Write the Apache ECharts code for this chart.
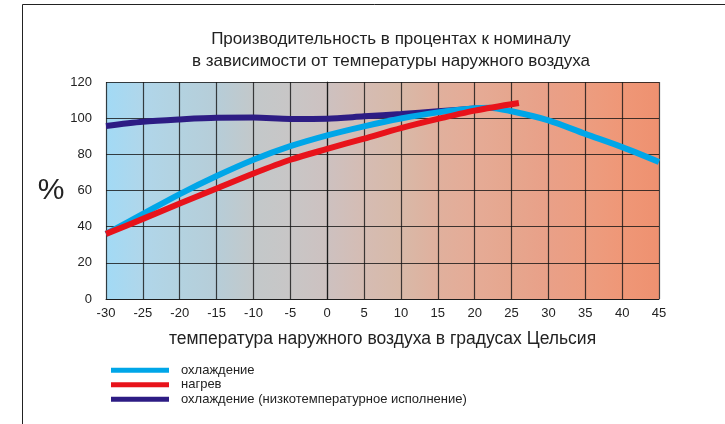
<!DOCTYPE html>
<html>
<head>
<meta charset="utf-8">
<script src="https://cdn.jsdelivr.net/npm/echarts@6/dist/echarts.min.js"></script>
<style>
  html, body { margin: 0; padding: 0; background: #fff; }
  #chart { width: 725px; height: 424px; }
</style>
</head>
<body>
<div id="chart"></div>
<script>
// данные
const titleText = 'Производительность в процентах к номиналу\nв зависимости от температуры наружного воздуха';
const xName = 'температура наружного воздуха в градусах Цельсия';
const seriesNames = ['охлаждение', 'нагрев', 'охлаждение (низкотемпературное исполнение)'];

const coolTemps = [-30, -25, -20, -15, -10, -5, 0, 5, 10, 15, 20, 22, 25, 30, 35, 40, 45];
const coolValues = [36, 47, 58, 68, 77, 84.5, 90.5, 95.5, 99.8, 103.2, 105.5, 105.8, 103.8, 98.8, 91.3, 84, 75.8];

const heatTemps = [-30, -25, -20, -15, -10, -5, 0, 5, 10, 15, 20, 26];
const heatValues = [36, 44.3, 52.8, 61.1, 69.4, 77, 83, 88.7, 94.5, 99.6, 104.2, 108.4];

const lowTemps = [-30, -25, -20, -15, -10, -5, 0, 5, 10, 15, 20, 21];
const lowValues = [95.7, 98, 99.3, 100.2, 100.3, 99.6, 99.7, 101, 102.3, 103.8, 105.3, 105.5];

// цвета фона по столбцам -30 ... 45
const bgStops = ['#a2daf5', '#b0d6ea', '#b3d2e0', '#b6cdd8', '#c3c8ca', '#c8c6c6', '#cdc1c0',
  '#d5bcb3', '#d8b9a8', '#e0b09d', '#e5ab96', '#e6a68e', '#e9a088', '#ec9d80', '#ef9777', '#ee9170'];

const colors = ['#00a6e8', '#e8131b', '#2d1c84'];

function pairs(xs, ys) {
  return xs.map((x, i) => [x, ys[i]]);
}

const chart = echarts.init(document.getElementById('chart'));
const font = 'Liberation Sans, Arial, sans-serif';
const gridColor = 'rgba(20,20,20,0.8)';

chart.setOption({
  animation: false,
  textStyle: { fontFamily: font },
  title: {
    text: titleText,
    left: 386,
    textAlign: 'center',
    top: 23,
    textStyle: { fontSize: 17, fontWeight: 'normal', color: '#222', lineHeight: 22, fontFamily: font }
  },
  graphic: [{
    type: 'rect',
    shape: { x: 22.5, y: 4.5, width: 900, height: 600 },
    style: { fill: 'none', stroke: '#222', lineWidth: 1 },
    z: -1
  }],
  legend: {
    orient: 'vertical',
    left: 106,
    top: 358,
    itemWidth: 58,
    itemHeight: 5,
    itemGap: 0,
    icon: 'rect',
    data: seriesNames,
    textStyle: { fontSize: 13, color: '#222', lineHeight: 14.5, padding: [0, 0, 0, 7], fontFamily: font }
  },
  grid: {
    left: 106, right: 66, top: 82, bottom: 125,
    show: true,
    borderWidth: 0,
    backgroundColor: new echarts.graphic.LinearGradient(0, 0, 1, 0,
      bgStops.map((c, i) => ({ offset: i / (bgStops.length - 1), color: c })))
  },
  xAxis: {
    type: 'value',
    min: -30, max: 45, interval: 5,
    name: xName,
    nameLocation: 'middle',
    nameGap: 31,
    nameTextStyle: { fontSize: 17.5, color: '#222', fontFamily: font },
    axisLine: { show: true, lineStyle: { color: gridColor, width: 1.2 } },
    axisTick: { show: false },
    axisLabel: { fontSize: 13, color: '#222', margin: 8, fontFamily: font },
    splitLine: { show: true, lineStyle: { color: gridColor, width: 1.2 } }
  },
  yAxis: {
    type: 'value',
    min: 0, max: 120, interval: 20,
    name: '%',
    nameLocation: 'middle',
    nameRotate: 0,
    nameGap: 37,
    nameTextStyle: { fontSize: 30, color: '#222', fontFamily: font, padding: [0, 0, 8, 0] },
    axisLine: { show: true, lineStyle: { color: gridColor, width: 1.2 } },
    axisTick: { show: false },
    axisLabel: { fontSize: 13, color: '#222', margin: 14, fontFamily: font },
    splitLine: { show: true, lineStyle: { color: gridColor, width: 1.2 } }
  },
  series: [
    {
      name: seriesNames[2], type: 'line', data: pairs(lowTemps, lowValues),
      smooth: 0.3, showSymbol: false, z: 2,
      lineStyle: { color: colors[2], width: 6 }, itemStyle: { color: colors[2] }
    },
    {
      name: seriesNames[0], type: 'line', data: pairs(coolTemps, coolValues),
      smooth: 0.3, showSymbol: false, z: 3,
      lineStyle: { color: colors[0], width: 6 }, itemStyle: { color: colors[0] }
    },
    {
      name: seriesNames[1], type: 'line', data: pairs(heatTemps, heatValues),
      smooth: 0.3, showSymbol: false, z: 4,
      lineStyle: { color: colors[1], width: 6 }, itemStyle: { color: colors[1] }
    }
  ]
});
</script>
</body>
</html>
